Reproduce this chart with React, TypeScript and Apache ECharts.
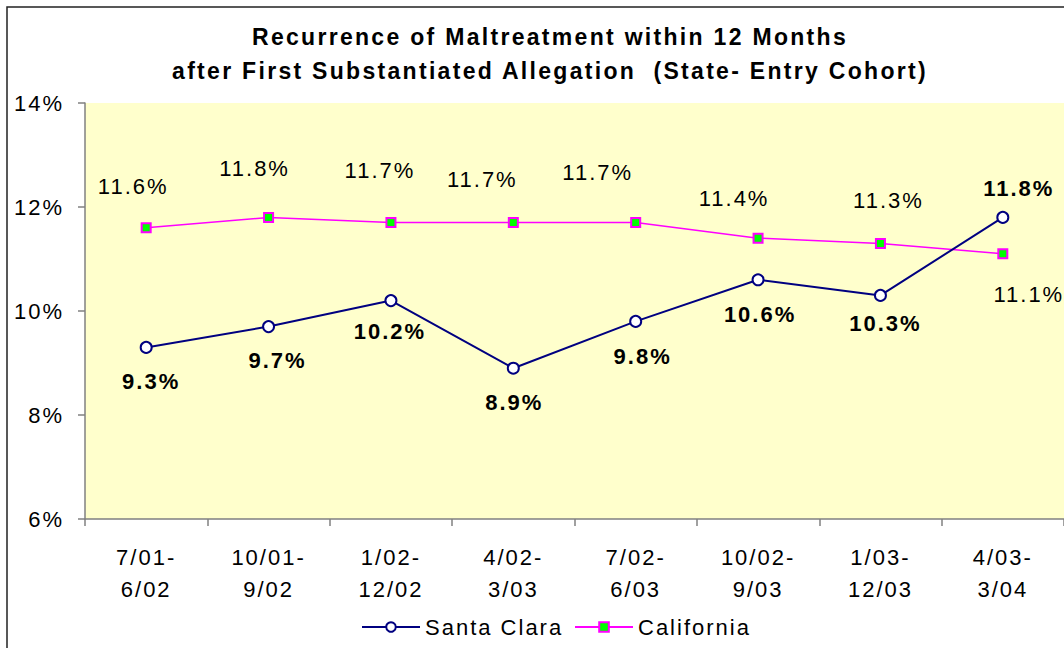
import React, { useEffect, useRef } from "react";
import * as echarts from "echarts";

const categories = [
  "7/01-\n6/02",
  "10/01-\n9/02",
  "1/02-\n12/02",
  "4/02-\n3/03",
  "7/02-\n6/03",
  "10/02-\n9/03",
  "1/03-\n12/03",
  "4/03-\n3/04",
];
const santaClara = [9.3, 9.7, 10.2, 8.9, 9.8, 10.6, 10.3, 11.8];
const california = [11.6, 11.8, 11.7, 11.7, 11.7, 11.4, 11.3, 11.1];
const yTicks = { min: 6, max: 14, interval: 2 };

// label placement (layout only)
const scLabelOffsets = [[5, 34], [9, 34], [-1, 31], [1, 34], [7, 35], [2, 35], [5, 28], [16, -29]];
const caLabelOffsets = [[-13, -41], [-14, -49], [-11, -52], [-31, -43], [-38, -50], [-24, -40], [8, -43], [26, 41]];

const FONT = "'Liberation Sans', Arial, sans-serif";

export default function App() {
  const ref = useRef<HTMLDivElement>(null);
  useEffect(() => {
    if (!ref.current) return;
    const chart = echarts.init(ref.current, null, { renderer: "svg" });
    const fmt = (p: any) => `${Number(p.value).toFixed(1)}%`;
    const legendText = { fontFamily: FONT, fontSize: 22, color: "#000" };
    chart.setOption({
      animation: false,
      backgroundColor: "#ffffff",
      textStyle: { fontFamily: FONT },
      title: {
        text: "Recurrence of Maltreatment within 12 Months\nafter First Substantiated Allegation  (State- Entry Cohort)",
        left: 545,
        textAlign: "center",
        top: 15,
        textStyle: { fontFamily: FONT, fontSize: 23, fontWeight: "bold", color: "#000", lineHeight: 34 },
      },
      graphic: [
        {
          type: "rect",
          shape: { x: 7, y: 7, width: 1200, height: 800 },
          style: { fill: "none", stroke: "#222", lineWidth: 1.5 },
          silent: true,
        },
      ],
      legend: [
        {
          left: 356,
          top: 611,
          itemWidth: 58,
          itemHeight: 12,
          itemGap: 4,
          textStyle: legendText,
          data: ["Santa Clara"],
        },
        {
          left: 569,
          top: 611,
          itemWidth: 58,
          itemHeight: 12,
          textStyle: legendText,
          data: ["California"],
        },
      ],
      grid: {
        left: 85,
        top: 103,
        right: -4,
        bottom: 129,
        show: true,
        backgroundColor: "#FFFFCC",
        borderWidth: 0,
      },
      xAxis: {
        type: "category",
        data: categories,
        boundaryGap: true,
        axisLine: { lineStyle: { color: "#808080", width: 1.5 } },
        axisTick: { show: true, length: 7, lineStyle: { color: "#808080", width: 1.5 } },
        axisLabel: { fontFamily: FONT, fontSize: 22, color: "#000", lineHeight: 32, margin: 22, interval: 0 },
      },
      yAxis: {
        type: "value",
        min: yTicks.min,
        max: yTicks.max,
        interval: yTicks.interval,
        axisLine: { show: true, lineStyle: { color: "#808080", width: 1.5 } },
        axisTick: { show: true, length: 7, lineStyle: { color: "#808080", width: 1.5 } },
        splitLine: { show: false },
        axisLabel: { fontFamily: FONT, fontSize: 22, color: "#000", margin: 21, formatter: "{value}%" },
      },
      series: [
        {
          name: "Santa Clara",
          type: "line",
          data: santaClara.map((v, i) => ({
            value: v,
            label: { offset: scLabelOffsets[i] },
          })),
          symbol: "circle",
          symbolSize: 11,
          lineStyle: { color: "#000080", width: 2 },
          itemStyle: { color: "#ffffff", borderColor: "#000080", borderWidth: 2 },
          label: {
            show: true,
            position: "inside",
            formatter: fmt,
            fontFamily: FONT,
            fontSize: 22,
            fontWeight: "bold",
            color: "#000",
          },
          z: 3,
        },
        {
          name: "California",
          type: "line",
          data: california.map((v, i) => ({
            value: v,
            label: { offset: caLabelOffsets[i] },
          })),
          symbol: "rect",
          symbolSize: 9,
          lineStyle: { color: "#FF00FF", width: 1.5 },
          itemStyle: { color: "#00FF00", borderColor: "#FF00FF", borderWidth: 2 },
          label: {
            show: true,
            position: "inside",
            formatter: fmt,
            fontFamily: FONT,
            fontSize: 22,
            fontWeight: "normal",
            color: "#000",
          },
          z: 2,
        },
      ],
    });
    return () => chart.dispose();
  }, []);
  return (
    <>
      <style>{`.chart-host svg text { letter-spacing: 2px; } .chart-host svg text[style*="23px"] { letter-spacing: 2.3px; }`}</style>
      <div
        ref={ref}
        className="chart-host"
        style={{ position: "absolute", left: 0, top: 0, width: 1064, height: 648 }}
      />
    </>
  );
}
